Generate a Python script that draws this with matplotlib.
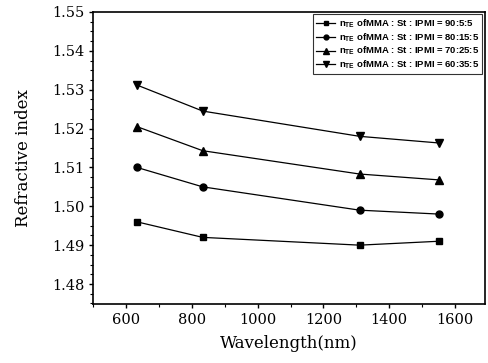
import numpy as np
import matplotlib.pyplot as plt
from matplotlib.ticker import MultipleLocator

wavelength = [633, 833, 1310, 1550]
n_90_5_5 = [1.496, 1.492, 1.490, 1.491]
n_80_15_5 = [1.510, 1.505, 1.499, 1.498]
n_70_25_5 = [1.5205, 1.5143, 1.5083, 1.5068]
n_60_35_5 = [1.5312, 1.5245, 1.518, 1.5163]
labels = ['90:5:5', '80:15:5', '70:25:5', '60:35:5']
markers = ['s', 'o', '^', 'v']
msizes = [4.5, 5, 5.5, 5.5]

fig = plt.figure(figsize=(4.88, 3.63), dpi=100)
ax = fig.add_axes([0.191, 0.163, 0.802, 0.804])

series = [n_90_5_5, n_80_15_5, n_70_25_5, n_60_35_5]
for y, lab, m, ms in zip(series, labels, markers, msizes):
    ax.plot(wavelength, y, color='black', linewidth=0.9, marker=m, markersize=ms,
            label=r'$\mathregular{n_{TE}}$ ofMMA : St : IPMI = ' + lab)

ax.set_xlim(500, 1690)
ax.set_ylim(1.4749, 1.55)
ax.xaxis.set_major_locator(MultipleLocator(200))
ax.xaxis.set_minor_locator(MultipleLocator(100))
ax.yaxis.set_major_locator(MultipleLocator(0.01))
ax.yaxis.set_minor_locator(MultipleLocator(0.0025))
ax.yaxis.set_major_formatter(plt.FormatStrFormatter('%.2f'))
ax.tick_params(which='both', direction='out', top=False, right=False)
ax.tick_params(which='major', length=3, width=1, labelsize=10.5)
ax.tick_params(which='minor', length=2, width=0.8)
for lbl in ax.get_xticklabels() + ax.get_yticklabels():
    lbl.set_family('DejaVu Serif')
for s in ax.spines.values():
    s.set_linewidth(1.2)

ax.set_xlabel('Wavelength(nm)', family='DejaVu Serif', fontsize=12, labelpad=6)
ax.set_ylabel('Refractive index', family='DejaVu Serif', fontsize=12, labelpad=14)

leg = ax.legend(loc='upper right', prop={'family': 'Liberation Sans', 'weight': 'bold', 'size': 6.8},
                frameon=True, fancybox=False, edgecolor='black', handlelength=2.0,
                borderpad=0.35, labelspacing=0.12, handletextpad=0.4, borderaxespad=0.25,
                markerscale=0.7)
leg.get_frame().set_linewidth(0.8)

fig.savefig('out.png', dpi=100)
